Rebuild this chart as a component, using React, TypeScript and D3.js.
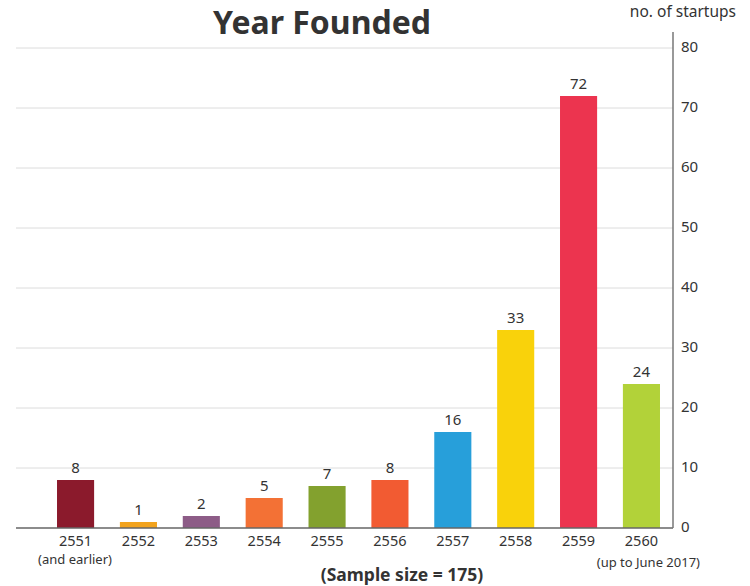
import React from "react";
import * as d3 from "d3";

const categories = ["2551", "2552", "2553", "2554", "2555", "2556", "2557", "2558", "2559", "2560"];
const subLabels = ["(and earlier)", "", "", "", "", "", "", "", "", "(up to June 2017)"];
const values = [8, 1, 2, 5, 7, 8, 16, 33, 72, 24];
const colors = ["#8B1A2C", "#F2A31D", "#8D5C87", "#F37135", "#83A12E", "#F25B32", "#279FDA", "#F9D20B", "#EC344F", "#B2D239"];
const yTicks = [0, 10, 20, 30, 40, 50, 60, 70, 80];

export default function App() {
  const W = 750, H = 586;
  const x = d3.scaleBand<string>().domain(categories).range([44, 673]).paddingInner(0.41).paddingOuter(0.207);
  const y = d3.scaleLinear().domain([0, 80]).range([528, 48]);
  const font = "'Noto Sans', sans-serif";
  return (
    <svg width={W} height={H} style={{ position: "absolute", left: 0, top: 0 }} fontFamily={font}>
      <rect width={W} height={H} fill="#fff" />
      {yTicks.filter(t => t > 0).map(t => (
        <line key={t} x1={16} x2={673} y1={y(t)} y2={y(t)} stroke="#dcdcdc" strokeWidth={1} />
      ))}
      {categories.map((c, i) => (
        <rect key={c} x={x(c)} y={y(values[i])} width={x.bandwidth()} height={y(0) - y(values[i])} fill={colors[i]} />
      ))}
      <line x1={16} x2={673} y1={y(0)} y2={y(0)} stroke="#666" strokeWidth={1.5} />
      <line x1={673} x2={673} y1={32} y2={y(0)} stroke="#777" strokeWidth={1.5} />
      {yTicks.map(t => (
        <text key={t} x={681} y={y(t) - 1} dy="0.35em" fontSize={15} fill="#333">{t}</text>
      ))}
      {categories.map((c, i) => (
        <text key={c} x={(x(c) as number) + x.bandwidth() / 2} y={y(values[i]) - 7} textAnchor="middle" fontSize={15} fill="#333">{values[i]}</text>
      ))}
      {categories.map((c, i) => (
        <text key={c} x={(x(c) as number) + x.bandwidth() / 2} y={546} textAnchor="middle" fontSize={14.5} fill="#333">{c}</text>
      ))}
      <text x={75} y={564} textAnchor="middle" fontSize={13} fill="#333">{subLabels[0]}</text>
      <text x={700} y={567} textAnchor="end" fontSize={13} fill="#333">{subLabels[9]}</text>
      <text x={402} y={581} textAnchor="middle" fontSize={17.5} fontWeight="bold" fill="#333">(Sample size = 175)</text>
      <text x={322} y={34} textAnchor="middle" fontSize={32} fontWeight="bold" fill="#333">Year Founded</text>
      <text x={736} y={17} textAnchor="end" fontSize={15.5} fill="#333">no. of startups</text>
    </svg>
  );
}
